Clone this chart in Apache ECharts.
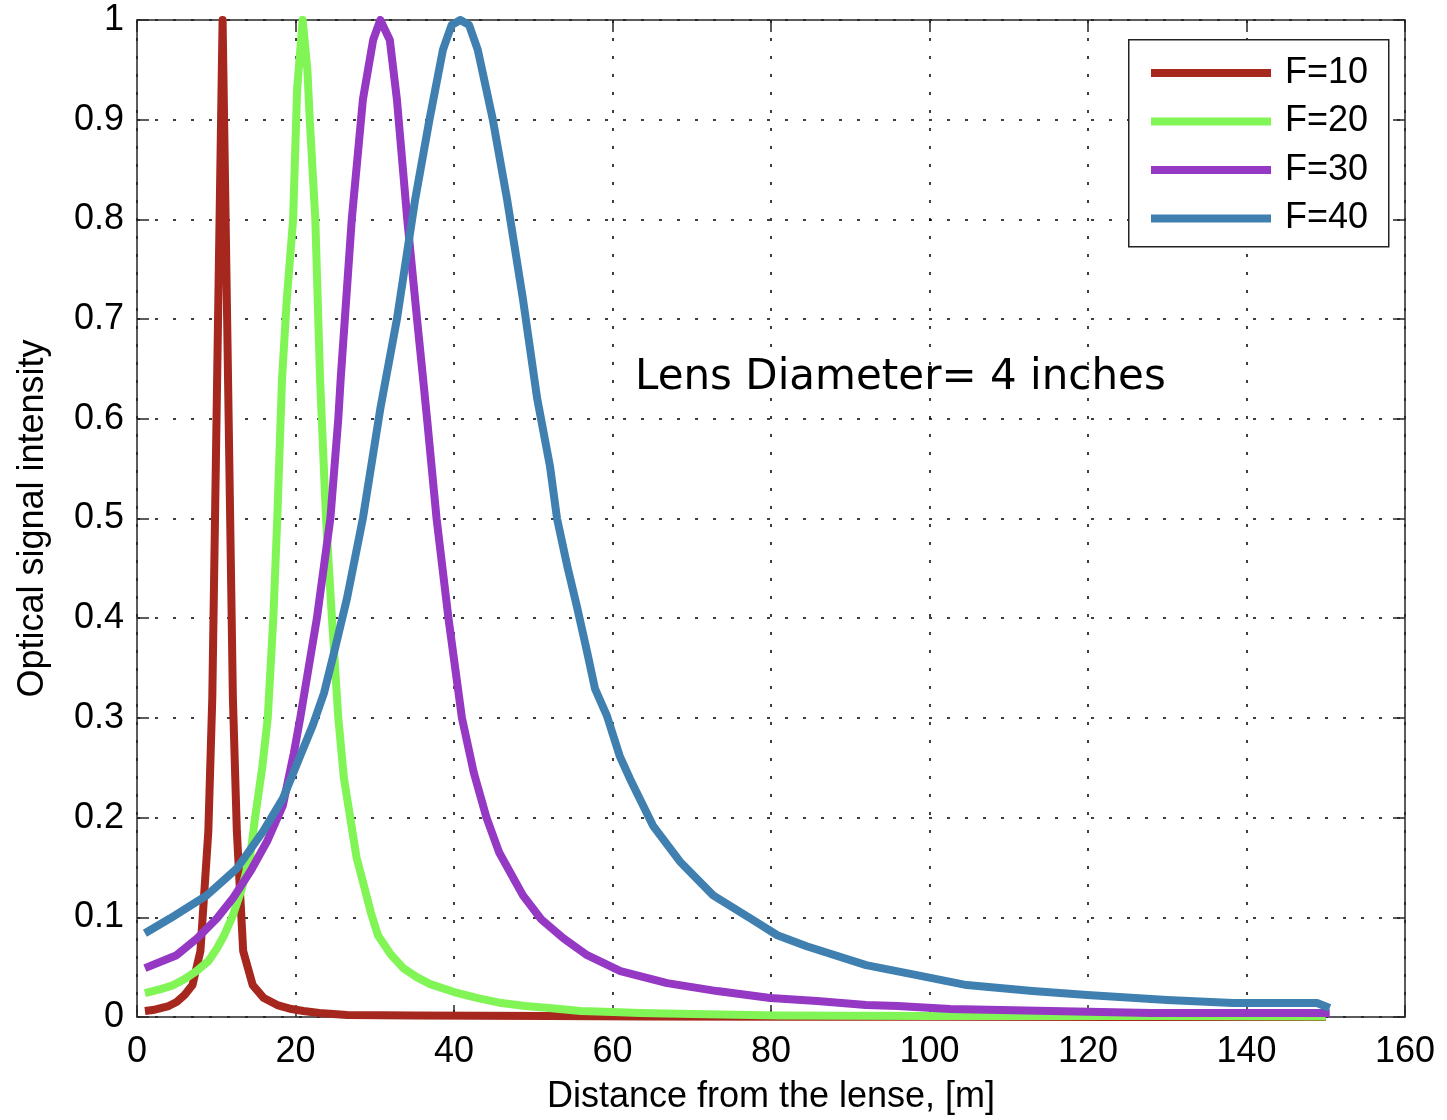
<!DOCTYPE html>
<html>
<head>
<meta charset="utf-8">
<script src="https://cdn.jsdelivr.net/npm/echarts@6/dist/echarts.min.js"></script>
<style>html,body{margin:0;padding:0;background:#fff;width:1447px;height:1120px;overflow:hidden;}#c{width:1447px;height:1120px;display:block;}</style>
</head>
<body>
<div id="c"></div>
<script>
const seriesNames = ['F=10', 'F=20', 'F=30', 'F=40'];
const xTicks = [0, 20, 40, 60, 80, 100, 120, 140, 160];
const yTicks = [0, 0.1, 0.2, 0.3, 0.4, 0.5, 0.6, 0.7, 0.8, 0.9, 1];

const f10X = [1, 2, 3, 4, 5, 6, 7, 8, 9, 9.5, 10.8, 12.1, 12.6, 13.4, 14.6, 16, 17.7, 19.5, 21, 23, 26.5, 35, 52, 64, 82, 100, 125, 150];
const f10Y = [0.006, 0.007, 0.009, 0.011, 0.015, 0.022, 0.032, 0.066, 0.186, 0.32, 1.0, 0.32, 0.186, 0.066, 0.032, 0.019, 0.012, 0.008, 0.006, 0.004, 0.002, 0.0015, 0.001, 0.0005, 0.0003, 0.0002, 0.0001, 0.0001];

const f20X = [1, 3, 4.6, 6, 7.5, 9, 10.1, 11, 12.1, 13.2, 14.3, 14.9, 15.8, 16.5, 17.2, 17.7, 18.3, 18.9, 19.7, 20.2, 20.9, 21.5, 21.8, 22.5, 23.1, 23.85, 24.6, 25.4, 26.1, 26.9, 27.7, 28.5, 29.5, 30.4, 32, 33.6, 35.3, 37, 40, 43, 46, 49, 52, 56, 60, 63.5, 70, 81, 100, 128, 150];
const f20Y = [0.024, 0.028, 0.032, 0.038, 0.046, 0.056, 0.069, 0.082, 0.102, 0.128, 0.162, 0.2, 0.25, 0.3, 0.4, 0.5, 0.64, 0.72, 0.8, 0.93, 1.0, 0.95, 0.9, 0.8, 0.64, 0.5, 0.4, 0.3, 0.24, 0.2, 0.16, 0.136, 0.105, 0.082, 0.063, 0.049, 0.04, 0.033, 0.025, 0.019, 0.014, 0.011, 0.009, 0.006, 0.005, 0.004, 0.003, 0.0015, 0.001, 0.001, 0.0005];

const f30X = [1, 5, 7.6, 10.1, 12.1, 14.3, 16.4, 18.4, 19.8, 20.6, 22.7, 24.4, 25.4, 25.7, 27.1, 28.5, 29.8, 30.7, 31.9, 32.8, 34.1, 35.5, 36.1, 36.6, 37.8, 39.3, 41.0, 42.5, 44.1, 45.7, 48.7, 51, 53.8, 56.8, 61, 66.9, 73.2, 79.9, 85.8, 92, 96, 102.6, 109, 128, 150.5];
const f30Y = [0.049, 0.062, 0.079, 0.099, 0.119, 0.146, 0.176, 0.212, 0.265, 0.3, 0.4, 0.5, 0.6, 0.64, 0.8, 0.92, 0.98, 1.0, 0.98, 0.92, 0.8, 0.687, 0.64, 0.6, 0.5, 0.4, 0.3, 0.245, 0.2, 0.165, 0.122, 0.098, 0.079, 0.062, 0.046, 0.034, 0.026, 0.019, 0.016, 0.012, 0.011, 0.008, 0.007, 0.004, 0.004];

const f40X = [1, 4.2, 8.8, 12.6, 15.9, 18.4, 20.6, 22.2, 23.6, 25, 26.5, 28.5, 30.7, 32.8, 35.1, 36.9, 38.6, 39.7, 40.8, 41.9, 43, 44.9, 46.7, 48.7, 50.5, 52.1, 53, 54.3, 55.5, 56.8, 57.8, 59.3, 60.9, 62.2, 65.1, 68.5, 72.7, 77.4, 80.8, 84.5, 92, 98.4, 104.7, 113, 119.9, 130, 138.3, 148.9, 150.5];
const f40Y = [0.084, 0.099, 0.122, 0.149, 0.186, 0.219, 0.262, 0.293, 0.325, 0.37, 0.42, 0.5, 0.61, 0.7, 0.82, 0.9, 0.97, 0.995, 1.0, 0.995, 0.97, 0.9, 0.82, 0.72, 0.62, 0.553, 0.5, 0.452, 0.412, 0.366, 0.329, 0.302, 0.262, 0.239, 0.192, 0.156, 0.122, 0.099, 0.082, 0.071, 0.052, 0.042, 0.032, 0.026, 0.022, 0.017, 0.014, 0.014, 0.009];

const colors = ['#A6271D', '#80F555', '#9538C3', '#4080B0'];

function zip(xs, ys) { return xs.map((x, i) => [x, ys[i]]); }
const allData = [zip(f10X, f10Y), zip(f20X, f20Y), zip(f30X, f30Y), zip(f40X, f40Y)];

const FONT = '"Liberation Sans", Arial, sans-serif';
const tickColor = '#262626';
const gridLine = { show: true, lineStyle: { color: '#000', width: 1.5, type: [3, 15] } };

const chart = echarts.init(document.getElementById('c'), null, { renderer: 'canvas', width: 1447, height: 1120 });
const axisCommon = {
  axisLine: { show: true, onZero: false, lineStyle: { color: tickColor, width: 1.5 } },
  axisTick: { show: true, inside: true, length: 12, lineStyle: { color: tickColor, width: 1.5 } },
  minorTick: { show: false }
};
chart.setOption({
  animation: false,
  backgroundColor: '#fff',
  color: colors,
  grid: { left: 137, right: 42, top: 20, bottom: 100, containLabel: false },
  legend: {
    data: seriesNames,
    orient: 'vertical',
    left: 1146,
    top: 50,
    z: 20,
    itemWidth: 120,
    itemHeight: 8,
    itemGap: 12.5,
    icon: 'rect',
    textStyle: { fontFamily: FONT, fontSize: 36, color: '#000', padding: [0, 0, 0, 9] }
  },
  xAxis: [
    Object.assign({
      type: 'value', min: xTicks[0], max: xTicks[xTicks.length - 1], interval: 20, position: 'bottom',
      name: 'Distance from the lense, [m]', nameLocation: 'middle', nameGap: 62,
      nameTextStyle: { fontFamily: FONT, fontSize: 36, color: '#000' },
      axisLabel: { fontFamily: FONT, fontSize: 36, color: '#000', margin: 17 },
      splitLine: gridLine
    }, axisCommon),
    Object.assign({
      type: 'value', min: xTicks[0], max: xTicks[xTicks.length - 1], interval: 20, position: 'top',
      axisLabel: { show: false }, splitLine: { show: false }
    }, axisCommon)
  ],
  yAxis: [
    Object.assign({
      type: 'value', min: yTicks[0], max: yTicks[yTicks.length - 1], interval: 0.1, position: 'left',
      name: 'Optical signal intensity', nameLocation: 'middle', nameGap: 86, nameRotate: 90,
      nameTextStyle: { fontFamily: FONT, fontSize: 36, color: '#000' },
      axisLabel: { fontFamily: FONT, fontSize: 36, color: '#000', margin: 13 },
      splitLine: gridLine
    }, axisCommon),
    Object.assign({
      type: 'value', min: yTicks[0], max: yTicks[yTicks.length - 1], interval: 0.1, position: 'right',
      axisLabel: { show: false }, splitLine: { show: false }
    }, axisCommon)
  ],
  series: allData.map((d, i) => ({
    name: seriesNames[i],
    type: 'line',
    data: d,
    showSymbol: false,
    symbol: 'none',
    smooth: false,
    clip: true,
    lineStyle: { width: 8, color: colors[i], join: 'round', cap: 'butt' },
    itemStyle: { color: colors[i] },
    z: 3 + i
  })),
  graphic: [
    {
      type: 'rect', left: 1128, top: 39, z: 8, silent: true,
      shape: { width: 260, height: 207 },
      style: { fill: '#fff', stroke: '#222', lineWidth: 1.5 }
    },
    {
      type: 'text', left: 635, top: 357, z: 10,
      style: { text: 'Lens Diameter= 4 inches', font: '42px "DejaVu Sans", Verdana, sans-serif', fill: '#000' }
    }
  ]
});
</script>
</body>
</html>
